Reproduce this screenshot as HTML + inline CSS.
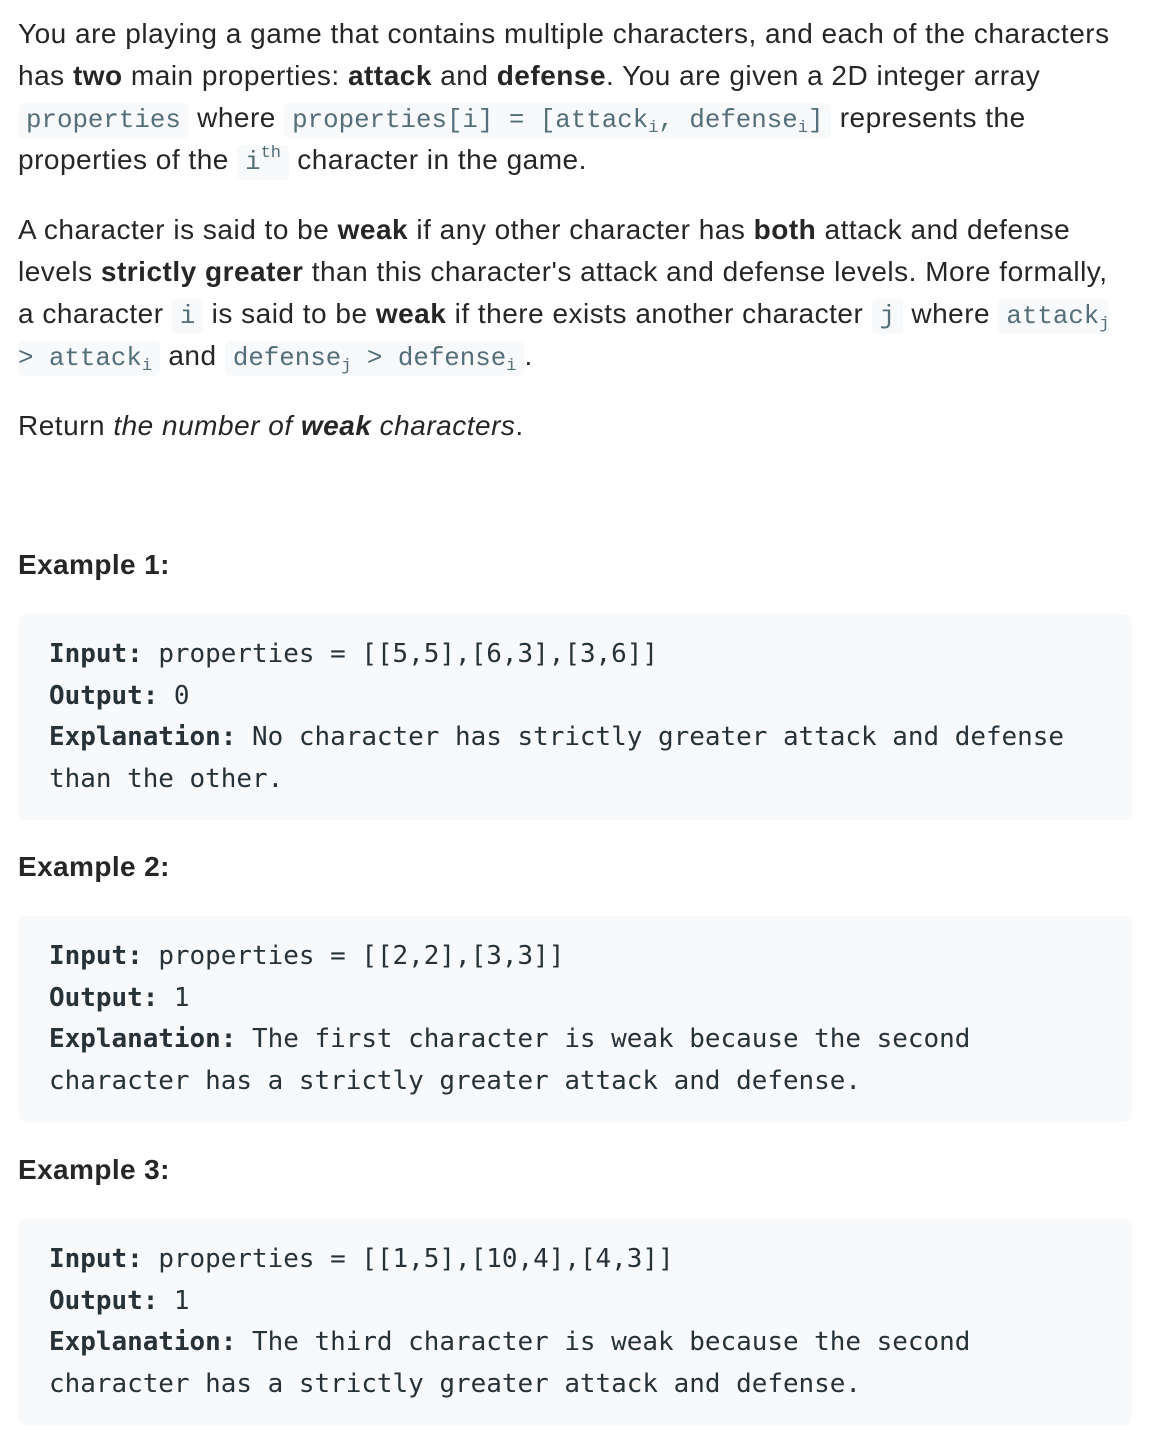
<!DOCTYPE html>
<html><head><meta charset="utf-8"><style>
body{margin:0;width:1166px;height:1452px;background:#fff;position:relative;font-family:"Liberation Sans",sans-serif;color:#262626;}
.l{position:absolute;left:18px;height:42px;line-height:42px;font-size:28px;letter-spacing:0.5px;white-space:nowrap;}
code{font-family:"Liberation Mono",monospace;font-size:25.8px;letter-spacing:0;color:#546e7a;background:#f7f9fa;border-radius:5px;padding:3px 8px;}
sub{font-size:17px;vertical-align:-5px;line-height:0;}
sup{font-size:17px;vertical-align:12px;line-height:0;}
b{font-weight:bold;}
.h{position:absolute;left:18px;font-weight:bold;font-size:28px;letter-spacing:0.4px;line-height:42px;}
.cb{position:absolute;left:18px;width:1114px;height:206px;background:#f7f9fa;border-radius:8px;}
.c{position:absolute;left:31px;font-family:"DejaVu Sans Mono",monospace;font-size:25.95px;line-height:41.5px;white-space:nowrap;color:#263238;}
</style></head><body>
<div class="l" style="top:13px">You are playing a game that contains multiple characters, and each of the characters</div>
<div class="l" style="top:55px">has <b>two</b> main properties: <b>attack</b> and <b>defense</b>. You are given a 2D integer array</div>
<div class="l" style="top:97px"><code>properties</code> where <code>properties[i] = [attack<sub>i</sub>, defense<sub>i</sub>]</code> represents the</div>
<div class="l" style="top:139px">properties of the <code>i<sup>th</sup></code> character in the game.</div>
<div class="l" style="top:209px">A character is said to be <b>weak</b> if any other character has <b>both</b> attack and defense</div>
<div class="l" style="top:251px">levels <b>strictly greater</b> than this character's attack and defense levels. More formally,</div>
<div class="l" style="top:293px">a character <code>i</code> is said to be <b>weak</b> if there exists another character <code>j</code> where <code style="padding-right:0">attack<sub>j</sub></code></div>
<div class="l" style="top:335px;left:18px"><code style="padding-left:0">&gt; attack<sub>i</sub></code> and <code>defense<sub>j</sub> &gt; defense<sub>i</sub></code>.</div>
<div class="l" style="top:405px">Return <i>the number of <b>weak</b> characters</i>.</div>

<div class="h" style="top:544px">Example 1:</div>
<div class="cb" style="top:614px">
<div class="c" style="top:20px"><b>Input:</b> properties = [[5,5],[6,3],[3,6]]<br><b>Output:</b> 0<br><b>Explanation:</b> No character has strictly greater attack and defense<br>than the other.</div></div>

<div class="h" style="top:846px">Example 2:</div>
<div class="cb" style="top:916px">
<div class="c" style="top:20px"><b>Input:</b> properties = [[2,2],[3,3]]<br><b>Output:</b> 1<br><b>Explanation:</b> The first character is weak because the second<br>character has a strictly greater attack and defense.</div></div>

<div class="h" style="top:1149px">Example 3:</div>
<div class="cb" style="top:1219px">
<div class="c" style="top:20px"><b>Input:</b> properties = [[1,5],[10,4],[4,3]]<br><b>Output:</b> 1<br><b>Explanation:</b> The third character is weak because the second<br>character has a strictly greater attack and defense.</div></div>
</body></html>
